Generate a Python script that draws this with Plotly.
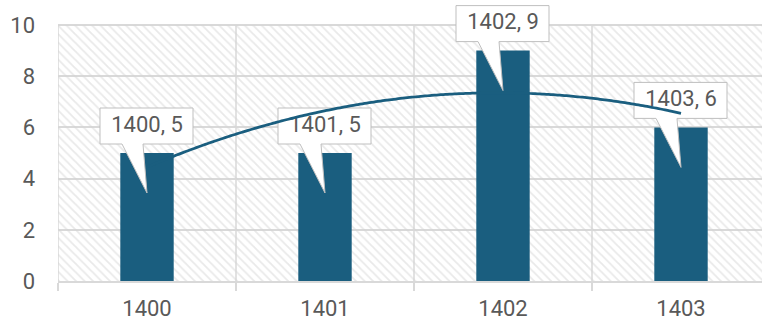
import numpy as np
import plotly.graph_objects as go

# Data
years = ["1400", "1401", "1402", "1403"]
values = [5, 5, 9, 6]
y_ticks = [0, 2, 4, 6, 8, 10]

# Styling
BAR = "#1a5e7f"
GRID = "#d9d9d9"
HATCH = "#d4d4d4"
TEXT = "#595959"
FONT = "Roboto"

W, H = 762, 326
ML, MR, MB = 58, 0, 45
TOP_PAD = 25          # white space above the value axis maximum
CAT_PX = 178          # width of one category slot in pixels
y_max = y_ticks[-1]
px_y = (H - MB - TOP_PAD) / y_max
x_range = [-0.5, -0.5 + (W - ML - MR) / CAT_PX]
y_range = [0, y_max + TOP_PAD / px_y]
px_x = (W - ML - MR) / (x_range[1] - x_range[0])

xs = np.arange(len(years))
bounds = np.arange(len(years) + 1) - 0.5

# Callout outline (pixel offsets from the top centre of a bar, y downwards)
callout = [(-47, -45), (46, -45), (46, -9), (-4, -9), (0, 40),
           (-25, -9), (-47, -9), (-47, -45)]
text_dy = -27

fig = go.Figure()

# Hatched plot background up to the axis maximum
fig.add_trace(go.Bar(
    x=[(x_range[0] + x_range[1]) / 2], y=[y_max],
    width=[x_range[1] - x_range[0]],
    marker=dict(color="rgba(0,0,0,0)", line_width=0,
                pattern=dict(shape="\\", fgcolor=HATCH, bgcolor="rgba(0,0,0,0)",
                             size=6, solidity=0.3)),
    hoverinfo="skip", showlegend=False,
))

# Bars
fig.add_trace(go.Bar(
    x=xs, y=values, width=0.3,
    marker=dict(color=BAR, line_width=0),
    showlegend=False,
))

# Callout boxes with pointers
for xi, v in zip(xs, values):
    cx = [xi + dx / px_x for dx, dy in callout]
    cy = [v - dy / px_y for dx, dy in callout]
    fig.add_trace(go.Scatter(
        x=cx, y=cy, mode="lines", fill="toself", fillcolor="white",
        line=dict(color="#bfbfbf", width=1),
        hoverinfo="skip", showlegend=False,
    ))

# Callout labels
fig.add_trace(go.Scatter(
    x=xs, y=[v - text_dy / px_y for v in values],
    mode="text", text=[f"{c}, {v}" for c, v in zip(years, values)],
    textposition="middle center",
    textfont=dict(family=FONT, size=22, color=TEXT),
    hoverinfo="skip", showlegend=False, cliponaxis=False,
))

# Second-order polynomial trendline
coef = np.polyfit(xs, values, 2)
tx = np.linspace(xs[0], xs[-1], 120)
fig.add_trace(go.Scatter(
    x=tx, y=np.polyval(coef, tx), mode="lines",
    line=dict(color=BAR, width=2.75, shape="spline"),
    hoverinfo="skip", showlegend=False,
))

# Vertical category separators, limited to the value range
for b in bounds:
    fig.add_shape(type="line", xref="x", yref="y", x0=b, x1=b, y0=0, y1=y_max,
                  line=dict(color=GRID, width=1.5), layer="below")

fig.update_layout(
    width=W, height=H, autosize=False,
    margin=dict(l=ML, r=MR, t=0, b=MB, pad=0),
    paper_bgcolor="white", plot_bgcolor="white",
    barmode="overlay", showlegend=False,
    font=dict(family=FONT, size=22, color=TEXT),
)
fig.update_xaxes(
    range=x_range, tickmode="array", tickvals=xs, ticktext=years,
    ticks="", showgrid=False, zeroline=False,
    showline=True, linecolor=GRID, linewidth=1.5,
    minor=dict(tickmode="array", tickvals=bounds,
               ticks="outside", ticklen=8, tickcolor=GRID, tickwidth=1.5,
               showgrid=False),
    tickfont=dict(family=FONT, size=22, color=TEXT),
    ticklabelstandoff=7, automargin=False,
)
fig.update_yaxes(
    range=y_range, tickmode="array", tickvals=y_ticks,
    ticks="", showgrid=True, gridcolor=GRID, gridwidth=1.5,
    zeroline=False, showline=False,
    tickfont=dict(family=FONT, size=22, color=TEXT),
    ticklabelstandoff=22, automargin=False,
)

fig.write_html("out.html")
